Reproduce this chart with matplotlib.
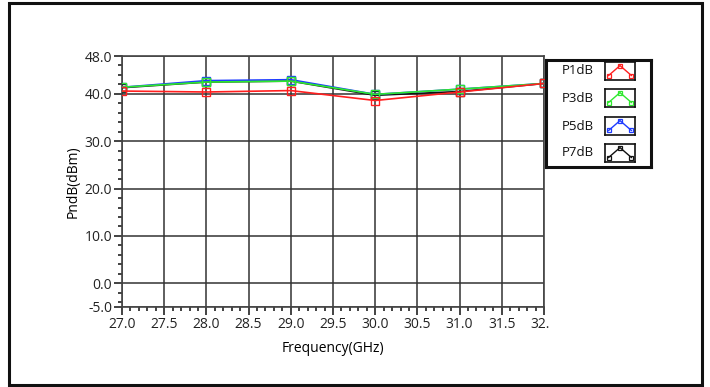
"""Pn-dB vs frequency chart, LabVIEW-style panel."""

import matplotlib

matplotlib.use("Agg")
import matplotlib.pyplot as plt
from matplotlib.patches import Rectangle
from matplotlib.ticker import FixedLocator, MultipleLocator
from matplotlib.transforms import Bbox, TransformedBbox

plt.rcParams["font.family"] = ["Open Sans", "DejaVu Sans"]

# data
freq = [27.0, 28.0, 29.0, 30.0, 31.0, 32.0]
p1db = [40.6, 40.4, 40.7, 38.6, 40.4, 42.2]
p3db = [41.4, 42.5, 42.7, 39.9, 41.0, 42.2]
p5db = [41.4, 42.8, 43.0, 39.9, 41.0, 42.2]
p7db = [41.3, 42.5, 42.7, 39.7, 40.5, 42.2]

series_names = ["P1dB", "P3dB", "P5dB", "P7dB"]
series_values = [p1db, p3db, p5db, p7db]
series_colors = ["#ff1f1f", "#2ee82e", "#1f3cff", "#111111"]

x_ticks = [27.0, 27.5, 28.0, 28.5, 29.0, 29.5, 30.0, 30.5, 31.0, 31.5, 32.0]
y_ticks = [-5.0, 0.0, 10.0, 20.0, 30.0, 40.0, 48.0]

W, H = 710, 387
fig = plt.figure(figsize=(W / 100, H / 100), dpi=100)
fig.patch.set_facecolor("white")

# outer panel frame
fig.add_artist(Rectangle((9 / W, 1 - 385 / H), 693 / W, 382 / H,
                         transform=fig.transFigure, fill=False,
                         edgecolor="#111111", linewidth=2.2))

ax = fig.add_axes([122 / W, 1 - 307 / H, 422 / W, 251 / H])

# draw back to front: black, blue, green, red
for idx in [3, 2, 1, 0]:
    ax.plot(freq, series_values[idx], color=series_colors[idx], linewidth=1.2,
            marker="s", markersize=5.5, markerfacecolor="none",
            markeredgewidth=1.0, zorder=3 + (3 - idx))

ax.set_xlim(27.0, 32.0)
ax.set_ylim(-5.0, 48.0)
ax.xaxis.set_major_locator(FixedLocator(x_ticks))
ax.xaxis.set_minor_locator(MultipleLocator(0.1))
ax.yaxis.set_major_locator(FixedLocator(y_ticks))
ax.yaxis.set_minor_locator(MultipleLocator(2))
ax.set_xticklabels([f"{v:.1f}" for v in x_ticks])
ax.set_yticklabels([f"{v:.1f}" for v in y_ticks])

ax.tick_params(which="major", direction="out", length=6, width=1.2,
               labelsize=10, colors="#222222", pad=1)
ax.tick_params(which="minor", direction="out", length=3, width=1.2,
               colors="#222222")
ax.grid(True, which="major", color="#333333", linewidth=1.1)
for sp in ax.spines.values():
    sp.set_color("#444444")
    sp.set_linewidth(1.2)

ax.set_xlabel("Frequency(GHz)", fontsize=10)
ax.set_ylabel("PndB(dBm)", fontsize=10)
ax.xaxis.set_label_coords(0.5, -0.135)
ax.yaxis.set_label_coords(-0.098, 0.5)

# last x label is cut at the plot edge in the original
clip = TransformedBbox(Bbox([[0, 0], [549 / W, 1]]), fig.transFigure)
for lbl in ax.get_xticklabels():
    lbl.set_clip_box(clip)
    lbl.set_clip_on(True)

# legend panel
lax = fig.add_axes([546 / W, 1 - 167 / H, 105 / W, 107 / H])
lax.set_xticks([])
lax.set_yticks([])
for sp in lax.spines.values():
    sp.set_linewidth(2.2)
    sp.set_color("#111111")

row_y = [71, 98, 126, 153]
for name, color, yc in zip(series_names, series_colors, row_y):
    fig.text(578 / W, 1 - yc / H, name, ha="center", va="center",
             fontsize=9.5, color="#111111")
    iax = fig.add_axes([605 / W, 1 - (yc + 9) / H, 30 / W, 18 / H])
    iax.set_xticks([])
    iax.set_yticks([])
    iax.set_xlim(0, 1)
    iax.set_ylim(0, 1)
    for sp in iax.spines.values():
        sp.set_linewidth(1.2)
        sp.set_color("#111111")
    iax.plot([0.12, 0.5, 0.88], [0.25, 0.8, 0.25], color=color, linewidth=1.0,
             marker="s", markersize=3.5, markerfacecolor="none",
             markeredgewidth=0.9, clip_on=False)

fig.savefig("out.png", dpi=100)
